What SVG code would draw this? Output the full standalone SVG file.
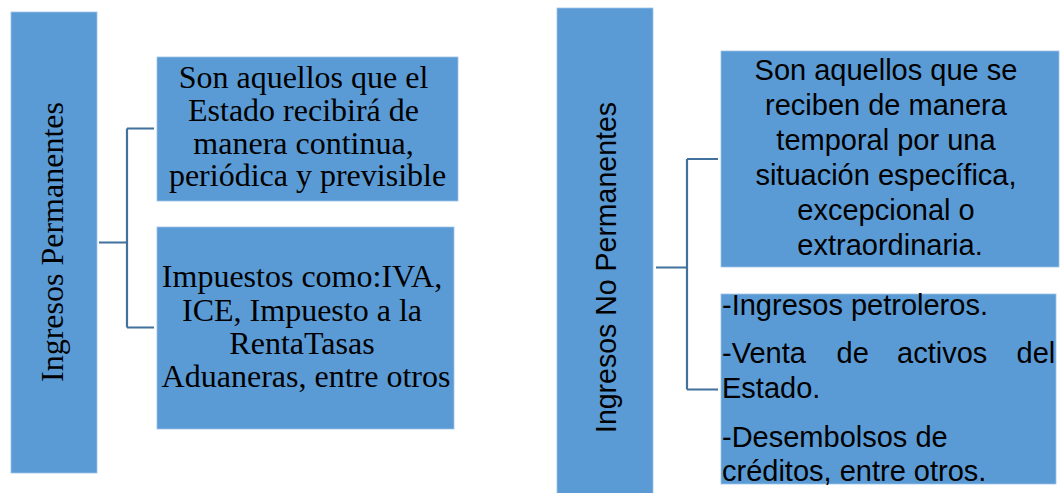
<svg xmlns="http://www.w3.org/2000/svg" width="1063" height="493" viewBox="0 0 1063 493">
<style>
.box{fill:#5b9bd5;stroke:#9dc3e6;stroke-width:0.8}
.serif{font-family:"Liberation Serif","Times New Roman",serif;font-size:32px;fill:#000}
.sans{font-family:"Liberation Sans",Arial,sans-serif;font-size:29px;fill:#000}
.conn{fill:none;stroke:#41719c;stroke-width:2.2}
</style>
<rect width="1063" height="493" fill="#fff"/>
<g id="connectors">
<path class="conn" d="M99 242.5H127M127 128.5V327.5M127 128.5H154M127 327.5H154"/>
<path class="conn" d="M656 267.5H687M687 159V389.5M687 159H718M687 389.5H718"/>
</g>
<g id="ingresos-permanentes">
<rect class="box" x="11" y="12" width="86" height="461"/>
<text class="serif" transform="translate(63,242) rotate(-90)" text-anchor="middle">Ingresos Permanentes</text>
</g>
<g id="definicion-permanentes">
<rect class="box" x="157" y="57" width="301" height="144"/>
<text class="serif" text-anchor="middle">
<tspan x="307.5" y="88">Son aquellos que el</tspan>
<tspan x="307.5" y="121">Estado recibirá de</tspan>
<tspan x="307.5" y="154">manera continua,</tspan>
<tspan x="307.5" y="186">periódica y previsible</tspan>
</text>
</g>
<g id="ejemplos-permanentes">
<rect class="box" x="157" y="227" width="297" height="202"/>
<text class="serif" text-anchor="middle">
<tspan x="306" y="287">Impuestos como:IVA,</tspan>
<tspan x="306" y="320.5">ICE, Impuesto a la</tspan>
<tspan x="306" y="353.5">RentaTasas</tspan>
<tspan x="306" y="387">Aduaneras, entre otros</tspan>
</text>
</g>
<g id="ingresos-no-permanentes">
<rect class="box" x="557" y="8" width="96" height="490"/>
<text class="sans" transform="translate(616,267.5) rotate(-90)" text-anchor="middle" textLength="331" lengthAdjust="spacingAndGlyphs">Ingresos No Permanentes</text>
</g>
<g id="definicion-no-permanentes">
<rect class="box" x="721" y="51" width="338" height="216"/>
<text class="sans" text-anchor="middle">
<tspan x="890" y="80">Son aquellos que se</tspan>
<tspan x="890" y="115">reciben de manera</tspan>
<tspan x="890" y="150">temporal por una</tspan>
<tspan x="890" y="185">situación específica,</tspan>
<tspan x="890" y="220">excepcional o</tspan>
<tspan x="890" y="255">extraordinaria.</tspan>
</text>
</g>
<g id="ejemplos-no-permanentes">
<rect class="box" x="721" y="294" width="335" height="190"/>
<text class="sans">
<tspan x="722" y="315">-Ingresos petroleros.</tspan>
<tspan x="722" y="363">-Venta</tspan><tspan x="836.5" y="363">de</tspan><tspan x="897" y="363">activos</tspan><tspan x="1016.5" y="363">del</tspan>
<tspan x="722" y="398">Estado.</tspan>
</text>
<text class="sans">
<tspan x="722" y="447">-Desembolsos de</tspan>
<tspan x="722" y="481">créditos, entre otros.</tspan>
</text>
</g>
</svg>
